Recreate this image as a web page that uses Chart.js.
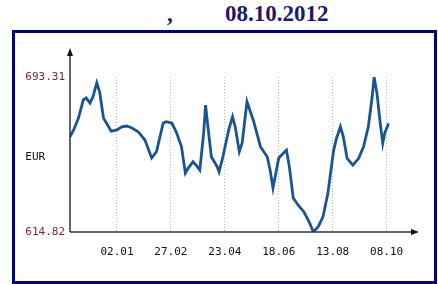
<!DOCTYPE html>
<html>
<head>
<meta charset="utf-8">
<script src="https://cdn.jsdelivr.net/npm/chart.js@4"></script>
<style>
  body { margin:0; background:#fff; width:438px; height:284px; position:relative; overflow:hidden; }
  .title { position:absolute; top:1px; font:bold 23px "Liberation Serif", serif; color:#1a1a70; white-space:pre; }
  .box { position:absolute; left:12px; top:30px; width:419px; height:248px; border:3px solid #000080; }
  canvas { display:block; }
</style>
</head>
<body>
<div class="title" style="left:167px">,</div>
<div class="title" style="left:225px">08.10.2012</div>
<div class="box"><canvas id="rate" width="419" height="248"></canvas></div>
<script>
// day of 2012 (negative = late 2011) and rate
const days = [-47,-43,-38,-33,-30,-26,-23,-19,-16,-12,-9,-4,2,7,12,17,24,31,38,43,
  50,53,59,64,69,73,76,81,85,88,92,94,96,100,106,108,112,118,122,125,
  129,132,137,144,151,158,161,164,170,175,178,181,185,190,196,202,206,211,216,221,
  227,230,234,237,241,247,253,258,263,267,269,272,275,278,280,284];
const values = [662.9,666.5,672.5,681.7,682.7,680.1,683.2,690.4,685.7,672.5,
  670.0,665.9,666.5,668.1,668.5,667.6,665.6,661.4,652.3,655.5,
  670.0,670.7,670.0,664.9,658.0,644.7,647.2,650.4,648.2,646.2,
  664.9,679.1,670.0,652.9,647.9,645.3,652.9,666.5,673.2,667.5,
  655.5,659.9,680.8,670.7,658.0,652.9,646.2,637.1,652.3,654.8,
  656.3,647.9,632.0,628.5,625.1,619.4,614.82,617.5,622.6,634.4,
  656.3,662.3,668.1,663.1,652.1,648.7,652.1,658.0,668.1,683.3,
  693.31,685.0,671.5,659.7,664.8,669.8];
const tickDays = [2,58,114,170,226,282];
const tickLabels = ['02.01','27.02','23.04','18.06','13.08','08.10'];
const yMin = 614.82, yMax = 693.31, unitPos = 652.5;
const unitLabel = 'EUR';

const axisArrows = {
  id:'axisArrows',
  afterDraw(chart){
    const c = chart.ctx, a = chart.chartArea;
    c.save();
    c.strokeStyle = '#333'; c.fillStyle = '#111'; c.lineWidth = 1.5;
    c.beginPath();
    c.moveTo(a.left, a.bottom); c.lineTo(a.left, a.top - 24);
    c.moveTo(a.left, a.bottom); c.lineTo(a.right + 14, a.bottom);
    c.stroke();
    // arrow heads
    c.beginPath();
    c.moveTo(a.left, a.top - 29); c.lineTo(a.left - 3, a.top - 21); c.lineTo(a.left + 3, a.top - 21); c.closePath();
    c.fill();
    c.beginPath();
    c.moveTo(a.right + 19, a.bottom); c.lineTo(a.right + 11, a.bottom - 3); c.lineTo(a.right + 11, a.bottom + 3); c.closePath();
    c.fill();
    c.restore();
  }
};

new Chart(document.getElementById('rate').getContext('2d'), {
  type:'line',
  data:{
    datasets:[{
      data: days.map((d,i) => ({x:d, y:values[i]})),
      borderColor:'#1a5496',
      borderWidth:2.8,
      pointRadius:0,
      tension:0,
      fill:false
    }]
  },
  options:{
    responsive:false,
    animation:false,
    layout:{ padding:{ top:44, right:34, left:0, bottom:0 } },
    plugins:{ legend:{display:false}, tooltip:{enabled:false} },
    scales:{
      x:{
        type:'linear', min:-46.8, max:295.9,
        afterBuildTicks: s => { s.ticks = tickDays.map(v => ({value:v})); },
        afterFit: s => { s.height = 49; },
        ticks:{
          callback: (v) => tickLabels[tickDays.indexOf(v)],
          font:{family:'DejaVu Sans Mono', size:11},
          color:'#111', padding:14, maxRotation:0, autoSkip:false
        },
        grid:{ color:'#b8b8b8', drawTicks:false, lineWidth:1 },
        border:{ display:false, dash:[1,2] }
      },
      y:{
        min:yMin, max:yMax,
        afterBuildTicks: s => { s.ticks = [{value:yMin},{value:unitPos},{value:yMax}]; },
        afterFit: s => { s.width = 55; },
        ticks:{
          callback: (v) => v === unitPos ? unitLabel + '   ' : v.toFixed(2),
          font:{family:'DejaVu Sans Mono', size:11},
          color: ctx => ctx.tick && ctx.tick.value === unitPos ? '#111' : '#7b2450',
          padding:5
        },
        grid:{ display:false, drawTicks:false },
        border:{ display:false }
      }
    }
  },
  plugins:[axisArrows]
});
</script>
</body>
</html>
